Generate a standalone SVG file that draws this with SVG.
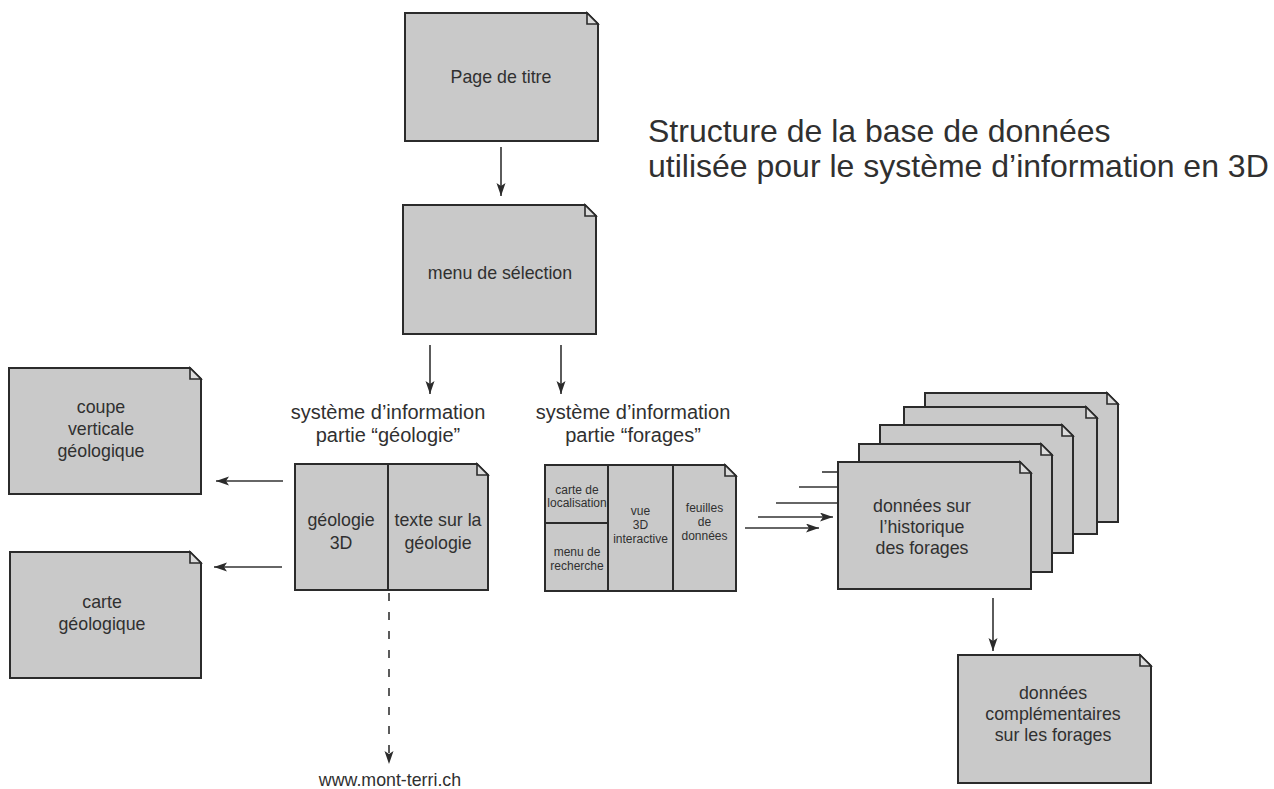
<svg xmlns="http://www.w3.org/2000/svg" width="1274" height="789" viewBox="0 0 1274 789">
<style>
.page{fill:#c9c9c9;stroke:#2b2b2b;stroke-width:2;stroke-linejoin:miter}
.fold{fill:#dcdcdc;stroke:#2b2b2b;stroke-width:1.6}
.div{stroke:#2b2b2b;stroke-width:2;fill:none}
.t{font-family:"Liberation Sans",Arial,sans-serif;fill:#303030;text-anchor:middle}
.n{font-size:17.8px}
.s{font-size:12px}
.lab{font-size:20px}
.title{font-family:"Liberation Sans",Arial,sans-serif;fill:#303030;font-size:32px}
.c{stroke:#333;stroke-width:1.6;fill:none}
</style>
<defs>
<marker id="ah" markerUnits="userSpaceOnUse" markerWidth="13" markerHeight="10" refX="13" refY="4.5" orient="auto">
<path d="M0,0 L13,4.5 L0,9 L3,4.5 z" fill="#2b2b2b"/>
</marker>
</defs>
<rect width="1274" height="789" fill="#fff"/>

<text class="title" x="648" y="142">Structure de la base de données</text>
<text class="title" x="648" y="177">utilisée pour le système d’information en 3D</text>

<g id="connectors">
<line class="c" x1="501" y1="147" x2="501" y2="196" marker-end="url(#ah)"/>
<line class="c" x1="430" y1="345" x2="430" y2="394" marker-end="url(#ah)"/>
<line class="c" x1="561" y1="345" x2="561" y2="394" marker-end="url(#ah)"/>
<line class="c" x1="283" y1="481" x2="216" y2="481" marker-end="url(#ah)"/>
<line class="c" x1="282" y1="567" x2="214" y2="567" marker-end="url(#ah)"/>
<line class="c" x1="389" y1="593" x2="389" y2="764" stroke-dasharray="8,11" marker-end="url(#ah)"/>
<line class="c" x1="822" y1="472" x2="838" y2="472"/>
<line class="c" x1="799" y1="487" x2="838" y2="487"/>
<line class="c" x1="776" y1="503" x2="838" y2="503"/>
<line class="c" x1="758" y1="517" x2="833" y2="517" marker-end="url(#ah)"/>
<line class="c" x1="745" y1="528" x2="819" y2="528" marker-end="url(#ah)"/>
<line class="c" x1="993" y1="598" x2="993" y2="651" marker-end="url(#ah)"/>
</g>

<g id="node-titre">
<path class="page" d="M405,13 H587 L598,24 V141 H405 Z"/>
<path class="fold" d="M587,13 V24 H598 Z"/>
<text class="t n" x="501" y="83">Page de titre</text>
</g>

<g id="node-menu">
<path class="page" d="M403,205 H585 L596,216 V334 H403 Z"/>
<path class="fold" d="M585,205 V216 H596 Z"/>
<text class="t n" x="500" y="279">menu de sélection</text>
</g>

<g id="node-coupe">
<path class="page" d="M9,368 H190 L201,379 V494 H9 Z"/>
<path class="fold" d="M190,368 V379 H201 Z"/>
<text class="t n" x="101" y="413">coupe</text>
<text class="t n" x="101" y="435">verticale</text>
<text class="t n" x="101" y="457">géologique</text>
</g>

<g id="node-carte">
<path class="page" d="M10,552 H190 L201,563 V678 H10 Z"/>
<path class="fold" d="M190,552 V563 H201 Z"/>
<text class="t n" x="102" y="608">carte</text>
<text class="t n" x="102" y="630">géologique</text>
</g>

<g id="node-geologie">
<text class="t lab" x="388" y="419">système d’information</text>
<text class="t lab" x="388" y="442">partie “géologie”</text>
<path class="page" d="M295,464 H477 L488,475 V590 H295 Z"/>
<path class="fold" d="M477,464 V475 H488 Z"/>
<line class="div" x1="388" y1="464" x2="388" y2="590"/>
<text class="t n" x="341" y="526">géologie</text>
<text class="t n" x="341" y="549">3D</text>
<text class="t n" x="438" y="526">texte sur la</text>
<text class="t n" x="438" y="549">géologie</text>
</g>

<g id="node-forages">
<text class="t lab" x="633" y="419">système d’information</text>
<text class="t lab" x="633" y="442">partie “forages”</text>
<path class="page" d="M545,465 H725 L736,476 V591 H545 Z"/>
<path class="fold" d="M725,465 V476 H736 Z"/>
<line class="div" x1="608" y1="465" x2="608" y2="591"/>
<line class="div" x1="673" y1="465" x2="673" y2="591"/>
<line class="div" x1="545" y1="523" x2="608" y2="523"/>
<text class="t s" x="577" y="494">carte de</text>
<text class="t s" x="577" y="507">localisation</text>
<text class="t s" x="577" y="556">menu de</text>
<text class="t s" x="577" y="570">recherche</text>
<text class="t s" x="640.5" y="515">vue</text>
<text class="t s" x="640.5" y="529">3D</text>
<text class="t s" x="640.5" y="543">interactive</text>
<text class="t s" x="704.5" y="512">feuilles</text>
<text class="t s" x="704.5" y="526">de</text>
<text class="t s" x="704.5" y="540">données</text>
</g>

<g id="node-historique">
<path class="page" d="M925,393 H1107 L1118,404 V522 H925 Z"/>
<path class="fold" d="M1107,393 V404 H1118 Z"/>
<path class="page" d="M904,407 H1086 L1097,418 V534 H904 Z"/>
<path class="fold" d="M1086,407 V418 H1097 Z"/>
<path class="page" d="M880,425 H1062 L1073,436 V553 H880 Z"/>
<path class="fold" d="M1062,425 V436 H1073 Z"/>
<path class="page" d="M859,444 H1041 L1052,455 V572 H859 Z"/>
<path class="fold" d="M1041,444 V455 H1052 Z"/>
<path class="page" d="M838,462 H1020 L1031,473 V589 H838 Z"/>
<path class="fold" d="M1020,462 V473 H1031 Z"/>
<text class="t n" x="922" y="512">données sur</text>
<text class="t n" x="922" y="533">l’historique</text>
<text class="t n" x="922" y="554">des forages</text>
</g>

<g id="node-complementaires">
<path class="page" d="M958,655 H1140 L1151,666 V783 H958 Z"/>
<path class="fold" d="M1140,655 V666 H1151 Z"/>
<text class="t n" x="1053" y="699">données</text>
<text class="t n" x="1053" y="720">complémentaires</text>
<text class="t n" x="1053" y="741">sur les forages</text>
</g>

<g id="node-url">
<text class="t n" x="390" y="786">www.mont-terri.ch</text>
</g>
</svg>
